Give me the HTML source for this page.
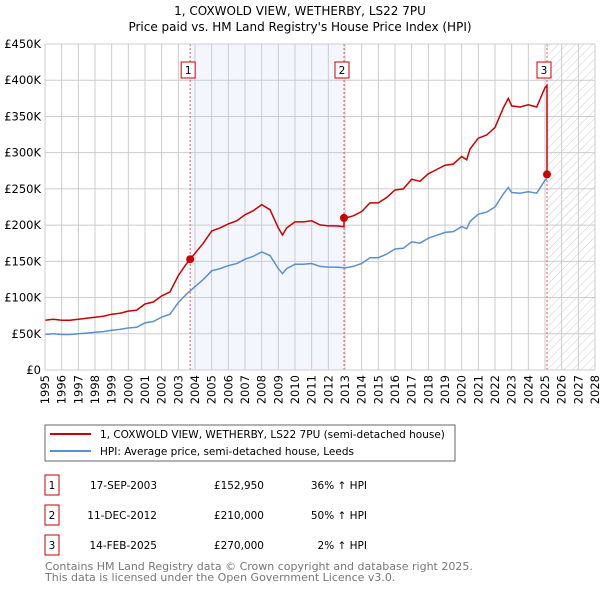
<!DOCTYPE html>
<html><head><meta charset="utf-8"><style>
body{margin:0;background:#fff;font-family:"Liberation Sans","DejaVu Sans",sans-serif}
svg text{font-family:"DejaVu Sans","Liberation Sans",sans-serif}
</style></head><body>
<svg id="c" width="600" height="590" xmlns="http://www.w3.org/2000/svg">
<defs><pattern id="hatch" width="6" height="6" patternUnits="userSpaceOnUse" patternTransform="rotate(45)"><line x1="0" y1="0" x2="0" y2="6" stroke="#ccc" stroke-width="1"/></pattern></defs>
<text x="300" y="15" text-anchor="middle" font-size="12">1, COXWOLD VIEW, WETHERBY, LS22 7PU</text>
<text x="300" y="31" text-anchor="middle" font-size="12">Price paid vs. HM Land Registry's House Price Index (HPI)</text>
<g id="plot"></g>
<rect x="45" y="425" width="410" height="36" fill="#fff" stroke="#666"/>
<line x1="50" y1="434" x2="91" y2="434" stroke="#cc0000" stroke-width="2"/>
<text x="100" y="438" font-size="10.5">1, COXWOLD VIEW, WETHERBY, LS22 7PU (semi-detached house)</text>
<line x1="50" y1="451" x2="91" y2="451" stroke="#5b8fd4" stroke-width="2"/>
<text x="100" y="455" font-size="10.5">HPI: Average price, semi-detached house, Leeds</text>
<g id="tbl" font-size="10.5"></g>
<text x="45" y="570" font-size="11" fill="#777">Contains HM Land Registry data © Crown copyright and database right 2025.</text>
<text x="45" y="581" font-size="11" fill="#777">This data is licensed under the Open Government Licence v3.0.</text>
</svg>
<script>
const hpiYears=[1995,1995.5,1996,1996.5,1997,1997.5,1998,1998.5,1999,1999.5,2000,2000.5,2001,2001.5,2002,2002.5,2003,2003.5,2004,2004.5,2005,2005.5,2006,2006.5,2007,2007.5,2008,2008.5,2009,2009.25,2009.5,2010,2010.5,2011,2011.5,2012,2012.5,2013,2013.5,2014,2014.5,2015,2015.5,2016,2016.5,2017,2017.5,2018,2018.5,2019,2019.5,2020,2020.3,2020.5,2021,2021.5,2022,2022.5,2022.8,2023,2023.5,2024,2024.5,2025,2025.12];
const hpiValues=[49,50,49,49,50,51,52,53,55,56,58,59,65,67,73,77,93,105,115,125,137,140,144,147,153,157,163,158,140,133,140,146,146,147,143,142,142,141,143,147,155,155,160,167,168,177,175,182,186,190,191,198,195,205,215,218,225,243,252,245,244,246,244,262,264];
const saleYears=[2003.71,2012.94,2025.12];
const salePrices=[152950,210000,270000];
const saleDates=["17-SEP-2003","11-DEC-2012","14-FEB-2025"];
const salePriceLabels=["£152,950","£210,000","£270,000"];
const saleHpiLabels=["36% ↑ HPI","50% ↑ HPI","2% ↑ HPI"];
const yTicks=[0,50,100,150,200,250,300,350,400,450];
const yTickLabels=["£0","£50K","£100K","£150K","£200K","£250K","£300K","£350K","£400K","£450K"];
const xYears=[1995,1996,1997,1998,1999,2000,2001,2002,2003,2004,2005,2006,2007,2008,2009,2010,2011,2012,2013,2014,2015,2016,2017,2018,2019,2020,2021,2022,2023,2024,2025,2026,2027,2028];

const NS="http://www.w3.org/2000/svg";
const X0=45,X1=595,Y0=370,Y1=44;
const xs=y=>X0+(y-1995)*(X1-X0)/33;
const ys=v=>Y0-v*(Y0-Y1)/450;
const plot=document.getElementById('plot');
function mk(t,a,p){const e=document.createElementNS(NS,t);for(const k in a)e.setAttribute(k,a[k]);(p||plot).appendChild(e);return e;}
function hpiAt(y){for(let i=1;i<hpiYears.length;i++){if(y<=hpiYears[i]){const t=(y-hpiYears[i-1])/(hpiYears[i]-hpiYears[i-1]);return hpiValues[i-1]+t*(hpiValues[i]-hpiValues[i-1]);}}return hpiValues[hpiValues.length-1];}

let e=mk('rect',{x:xs(saleYears[0]),y:Y1,width:xs(saleYears[1])-xs(saleYears[0]),height:Y0-Y1,fill:'#f3f6fd'});


e=mk('rect',{x:xs(saleYears[2]),y:Y1,width:X1-xs(saleYears[2]),height:Y0-Y1,fill:'url(#hatch)'});


yTicks.forEach((v,i)=>{
  const g=mk('line',{x1:X0,x2:X1,y1:ys(v),y2:ys(v),stroke:'#ccc'});
  
  
  const t=mk('text',{x:X0-4,y:ys(v)+4,'text-anchor':'end','font-size':'11.5'});t.textContent=yTickLabels[i];
  
  
});
xYears.forEach(y=>{
  const g=mk('line',{x1:xs(y),x2:xs(y),y1:Y1,y2:Y0,stroke:'#ccc'});
  
  
  const t=mk('text',{x:0,y:0,'text-anchor':'end','font-size':'11.5',transform:`translate(${xs(y)+4},${Y0+5}) rotate(-90)`});t.textContent=y;
  
  
});
saleYears.forEach((y,i)=>{
  const l=mk('line',{x1:xs(y),x2:xs(y),y1:Y1,y2:Y0,stroke:'#e06060','stroke-dasharray':'2,2'});
  
  
  const b=mk('rect',{x:xs(y)-(i==2?10:9),y:62,width:14,height:16,fill:'#fff',stroke:'#cc0000'});
  
  
  const t=mk('text',{x:xs(y)-(i==2?3:2),y:74,'text-anchor':'middle','font-size':'10.5'});t.textContent=i+1;
  
  
});
let d='';hpiYears.forEach((y,i)=>{d+=(i?'L':'M')+xs(y).toFixed(1)+','+ys(hpiValues[i]).toFixed(1);});
e=mk('path',{d:d,fill:'none',stroke:'#5b8fd4','stroke-width':1.5});


function ratio(y){let k=0;for(let i=0;i<saleYears.length;i++)if(y>=saleYears[i])k=i;return salePrices[k]/1000/hpiAt(saleYears[k]);}
const pts=[];
hpiYears.forEach((y,i)=>{
  saleYears.forEach((s,k)=>{if(s>(i?hpiYears[i-1]:0)&&s<=y&&s>hpiYears[0]){pts.push([s,hpiAt(s)*(k?salePrices[k-1]/1000/hpiAt(saleYears[k-1]):salePrices[0]/1000/hpiAt(saleYears[0]))]);pts.push([s,salePrices[k]/1000]);}});
  if(y<=saleYears[2])pts.push([y,hpiValues[i]*ratio(y)]);
});
pts.sort((a,b)=>a[0]-b[0]);
d='';pts.forEach((p,i)=>{d+=(i?'L':'M')+xs(p[0]).toFixed(1)+','+ys(p[1]).toFixed(1);});
e=mk('path',{d:d,fill:'none',stroke:'#cc0000','stroke-width':1.5});


saleYears.forEach((y,i)=>{
  const c=mk('circle',{cx:xs(y),cy:ys(salePrices[i]/1000),r:4,fill:'#cc0000'});
  
  
});
mk('rect',{x:X0,y:Y1,width:X1-X0,height:Y0-Y1,fill:'none',stroke:'#ccc'});
const tbl=document.getElementById('tbl');
saleDates.forEach((dt,i)=>{
  const y=485+i*30;
  const b=mk('rect',{x:45,y:y-10,width:14,height:20,fill:'#fff',stroke:'#cc0000'},tbl);
  
  
  const cells=[[52,i+1,'middle'],[157,dt,'end'],[264,salePriceLabels[i],'end'],[367,saleHpiLabels[i],'end']];
  cells.forEach(c=>{const t=mk('text',{x:c[0],y:y+4,'text-anchor':c[2]},tbl);t.textContent=c[1];
    
    });
});
</script>
</body></html>
